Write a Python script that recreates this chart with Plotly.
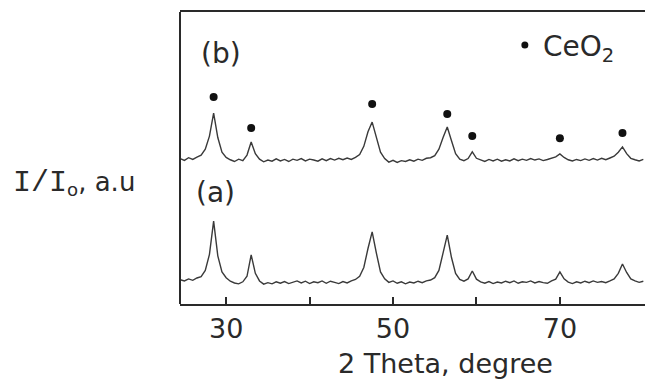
import plotly.graph_objects as go

# 2-theta sampling positions (degrees)
two_theta = [24.5, 25.0, 25.5, 26.0, 26.5, 27.0, 27.5, 28.0, 28.5, 29.0,
             29.5, 30.0, 30.5, 31.0, 31.5, 32.0, 32.5, 33.0, 33.5, 34.0,
             34.5, 35.0, 35.5, 36.0, 36.5, 37.0, 37.5, 38.0, 38.5, 39.0,
             39.5, 40.0, 40.5, 41.0, 41.5, 42.0, 42.5, 43.0, 43.5, 44.0,
             44.5, 45.0, 45.5, 46.0, 46.5, 47.0, 47.5, 48.0, 48.5, 49.0,
             49.5, 50.0, 50.5, 51.0, 51.5, 52.0, 52.5, 53.0, 53.5, 54.0,
             54.5, 55.0, 55.5, 56.0, 56.5, 57.0, 57.5, 58.0, 58.5, 59.0,
             59.5, 60.0, 60.5, 61.0, 61.5, 62.0, 62.5, 63.0, 63.5, 64.0,
             64.5, 65.0, 65.5, 66.0, 66.5, 67.0, 67.5, 68.0, 68.5, 69.0,
             69.5, 70.0, 70.5, 71.0, 71.5, 72.0, 72.5, 73.0, 73.5, 74.0,
             74.5, 75.0, 75.5, 76.0, 76.5, 77.0, 77.5, 78.0, 78.5, 79.0,
             79.5, 80.0]

# pattern (a), intensity in arbitrary units
intensity_a = [8.3, 7.9, 8.6, 8.1, 8.9, 9.4, 11.5, 17.0, 28.4, 16.5,
               11.0, 9.0, 7.8, 7.2, 6.9, 7.6, 9.5, 16.8, 10.5, 7.9,
               6.8, 7.3, 6.9, 7.6, 7.1, 7.7, 7.0, 7.5, 7.9, 7.2,
               7.8, 7.0, 7.6, 7.3, 7.9, 7.1, 7.8, 7.4, 7.0, 7.7,
               7.2, 7.9, 8.4, 9.5, 12.5, 19.0, 24.7, 17.5, 11.0, 8.6,
               7.4, 7.9, 7.1, 7.6, 6.9, 7.5, 7.2, 7.8, 7.3, 7.9,
               8.2, 9.0, 11.5, 17.5, 23.6, 16.0, 10.5, 8.4, 7.8, 8.6,
               11.3, 8.5, 7.6, 7.1, 7.7, 7.0, 7.5, 7.2, 7.8, 7.3,
               7.9, 7.1, 7.6, 7.4, 7.9, 7.2, 7.7, 7.3, 7.1, 7.9,
               8.5, 11.0, 8.6, 7.5, 7.0, 7.6, 7.2, 7.8, 7.3, 7.9,
               7.4, 7.7, 7.3, 7.9, 8.6, 10.5, 13.7, 10.8, 8.6, 7.9,
               7.4, 7.8]

# pattern (b), intensity in arbitrary units
intensity_b = [49.8, 49.2, 50.1, 49.5, 50.3, 51.0, 53.0, 57.5, 65.4, 57.0,
               52.0, 50.2, 49.4, 48.8, 49.6, 49.1, 51.0, 55.5, 51.5, 49.6,
               48.7, 49.3, 48.9, 49.7, 49.0, 49.5, 48.8, 49.6, 49.2, 49.8,
               49.0, 49.6, 49.3, 48.9, 49.7, 49.1, 49.8, 49.3, 49.9, 49.4,
               50.0, 49.5, 50.2, 51.2, 54.0, 59.0, 62.3, 57.5, 52.0, 49.8,
               48.6, 49.2, 48.5, 49.1, 48.8, 49.4, 48.9, 49.6, 49.2, 49.9,
               50.1, 50.8, 53.0, 57.0, 60.6, 56.0, 51.5, 49.6, 49.1, 49.8,
               52.1, 49.9, 49.3, 48.8, 49.5, 49.0, 49.6, 48.9, 49.4, 49.0,
               49.7, 49.1, 49.6, 49.2, 49.8, 49.3, 49.7, 49.1, 49.5, 49.9,
               50.4, 51.4, 50.2, 49.4, 49.0, 49.5, 49.1, 49.7, 49.2, 49.8,
               49.3, 49.9, 49.4, 50.0, 50.6, 52.0, 53.8, 51.5, 49.9, 49.4,
               49.0, 49.5]

# CeO2 reflection markers above pattern (b)
marker_theta = [28.5, 33.0, 47.5, 56.5, 59.5, 70.0, 77.5]
marker_level = [70.9, 60.3, 68.5, 65.1, 57.5, 56.8, 58.6]

# legend key position (data units)
key_theta = [65.8]
key_level = [88.7]

major_ticks = [30, 50, 70]
minor_ticks = [40, 60]

W, H = 645, 381
L, R, T, B = 180, 0, 12, 77
PW = W - L - R
PH = H - T - B

def px(xp):
    return (xp - L) / PW

def py(yp):
    return (H - B - yp) / PH

ink = "#2a2a2a"
font = "DejaVu Sans"

fig = go.Figure()
fig.add_trace(go.Scatter(x=two_theta, y=intensity_a, mode="lines",
                         line=dict(color="#3a3a3a", width=1.4), hoverinfo="skip"))
fig.add_trace(go.Scatter(x=two_theta, y=intensity_b, mode="lines",
                         line=dict(color="#3a3a3a", width=1.4), hoverinfo="skip"))
fig.add_trace(go.Scatter(x=marker_theta, y=marker_level, mode="markers",
                         marker=dict(color="#111111", size=8), hoverinfo="skip"))
fig.add_trace(go.Scatter(x=key_theta, y=key_level, mode="markers",
                         marker=dict(color="#111111", size=7), hoverinfo="skip"))

annotations = [
    dict(text="(b)", x=px(199), y=py(53), xanchor="left", yanchor="middle"),
    dict(text="(a)", x=px(194), y=py(193), xanchor="left", yanchor="middle"),
    dict(text="CeO<sub>2</sub>", x=px(541), y=py(48), xanchor="left", yanchor="middle"),
    dict(text="2 Theta, degree", x=px(336), y=py(363), xanchor="left", yanchor="middle",
         font=dict(size=27)),
    dict(text="<span style='font-family:Liberation Mono;font-size:30px'>I/I</span>"
              "<sub>o</sub>, a.u",
         x=px(11), y=py(183), xanchor="left", yanchor="middle", font=dict(size=26)),
]
for a in annotations:
    a.update(xref="paper", yref="paper", showarrow=False)
    if "font" not in a:
        a["font"] = dict(size=28)
    a["font"].update(family=font, color=ink)

fig.update_layout(
    width=W, height=H,
    margin=dict(l=L, r=R, t=T, b=B, pad=0),
    paper_bgcolor="white", plot_bgcolor="white",
    showlegend=False,
    annotations=annotations,
    xaxis=dict(range=[24.47, 80.2], tickvals=major_ticks,
               ticks="inside", ticklen=7, tickwidth=2, tickcolor=ink,
               minor=dict(tickvals=minor_ticks, ticks="inside", ticklen=7,
                          tickwidth=2, tickcolor=ink, showgrid=False),
               showline=True, linecolor=ink, linewidth=2, mirror=True,
               showgrid=False, zeroline=False,
               tickfont=dict(family=font, size=27, color=ink)),
    yaxis=dict(range=[0, 100], showticklabels=False, ticks="",
               showline=False, showgrid=False, zeroline=False),
    shapes=[dict(type="line", xref="paper", yref="paper", x0=0, x1=0, y0=0, y1=1,
                 line=dict(color=ink, width=2))],
)

fig.write_html("out.html")
